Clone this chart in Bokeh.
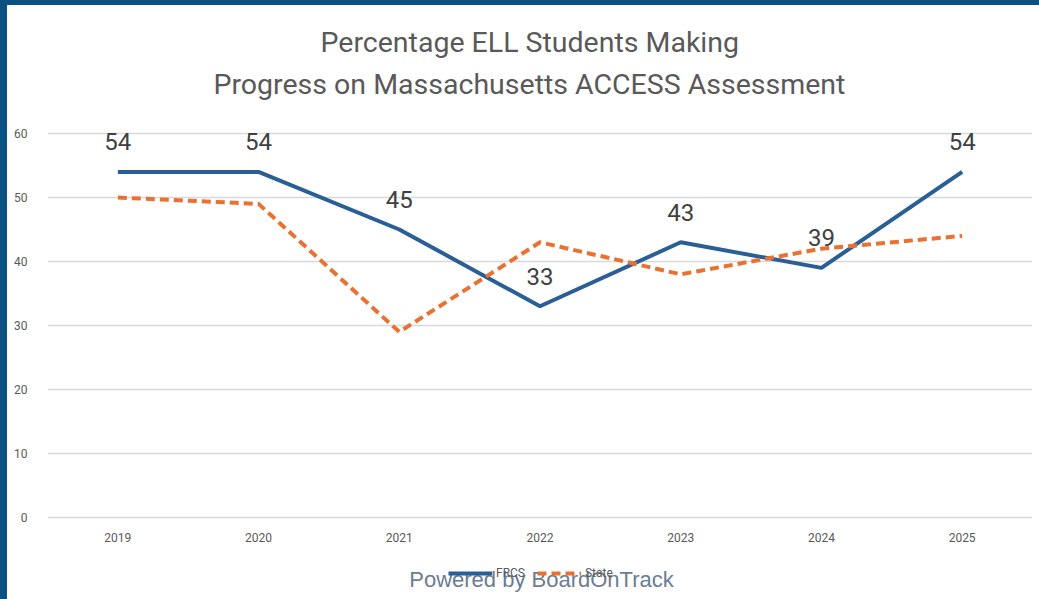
from bokeh.plotting import figure
from bokeh.models import Range1d, FactorRange, Label, Legend, LegendItem, ColumnDataSource, FixedTicker, Title, Div
from bokeh.layouts import row, column
from bokeh.core.properties import value
from bokeh.embed import file_html
from bokeh.resources import INLINE

years = ["2019", "2020", "2021", "2022", "2023", "2024", "2025"]
frcs = [54, 54, 45, 33, 43, 39, 54]
state = [50, 49, 29, 43, 38, 42, 44]
frcs_labels = [str(v) for v in frcs]
title_lines = ["Percentage ELL Students Making", "Progress on Massachusetts ACCESS Assessment"]
y_ticks = [0, 10, 20, 30, 40, 50, 60]

BLUE = "#2a5f96"
ORANGE = "#e97132"
GREY = "#595959"
FRAME_BLUE = "#0b5283"

fig = figure(width=1032, height=594, output_backend="svg", toolbar_location=None,
             x_range=FactorRange(*years), y_range=Range1d(-12.8125, 62.03),
             x_axis_location="above",
             min_border_left=40, min_border_right=7, min_border_top=115, min_border_bottom=0)
fig.outline_line_color = None
fig.background_fill_color = "white"
fig.border_fill_color = "white"

src = ColumnDataSource(dict(x=years, frcs=frcs, state=state, lab=frcs_labels))
r1 = fig.line("x", "frcs", source=src, line_color=BLUE, line_width=4)
r2 = fig.line("x", "state", source=src, line_color=ORANGE, line_width=4, line_dash="9 5")
fig.text("x", "frcs", text="lab", source=src, y_offset=-30, text_align="center",
         text_baseline="middle", text_font=value("Roboto"), text_font_size="24px",
         text_color="#404040")

fig.xgrid.grid_line_color = None
fig.ygrid.grid_line_color = "#d9d9d9"
fig.ygrid.grid_line_width = 1.5
fig.yaxis.ticker = FixedTicker(ticks=y_ticks)
for ax in (fig.xaxis[0], fig.yaxis[0]):
    ax.axis_line_color = None
    ax.major_tick_line_color = None
    ax.minor_tick_line_color = None
    ax.major_label_text_color = GREY
    ax.major_label_text_font = "Roboto"
    ax.major_label_text_font_size = "12px"
fig.xaxis.fixed_location = -4.83
fig.xaxis.major_label_standoff = 0
fig.yaxis.major_label_standoff = 14

legend = Legend(items=[LegendItem(label="FRCS", renderers=[r1]), LegendItem(label="State", renderers=[r2])],
                orientation="horizontal", location=(401, 16), background_fill_alpha=0,
                border_line_color=None, glyph_width=44, label_text_font_size="12px",
                label_text_color=GREY, label_text_font="Roboto", spacing=12, padding=0,
                label_standoff=4, margin=0)
fig.add_layout(legend, "center")

# small spacer between the x axis and the two-line title
fig.add_layout(Title(text=" ", text_font_size="1px", standoff=9), "above")
fig.add_layout(Title(text=title_lines[1], align="left", text_font="Roboto", text_font_size="28.5px",
                     text_font_style="normal", text_color=GREY, standoff=15, offset=166), "above")
fig.add_layout(Title(text=title_lines[0], align="left", text_font="Roboto", text_font_size="28.5px",
                     text_font_style="normal", text_color=GREY, standoff=0, offset=273), "above")

fig.add_layout(Label(x=494, y=20, x_units="screen", y_units="screen", text="Powered by BoardOnTrack",
                     text_align="center", text_baseline="middle", text_font="Liberation Sans",
                     text_font_size="22px", text_color="#6b7d93"))

top_strip = Div(width=1039, height=5, margin=0, styles={"background-color": FRAME_BLUE})
left_strip = Div(width=7, height=594, margin=0, styles={"background-color": FRAME_BLUE})
p = column(top_strip, row(left_strip, fig, spacing=0), spacing=0)

open("out.html", "w").write(file_html(p, INLINE))
